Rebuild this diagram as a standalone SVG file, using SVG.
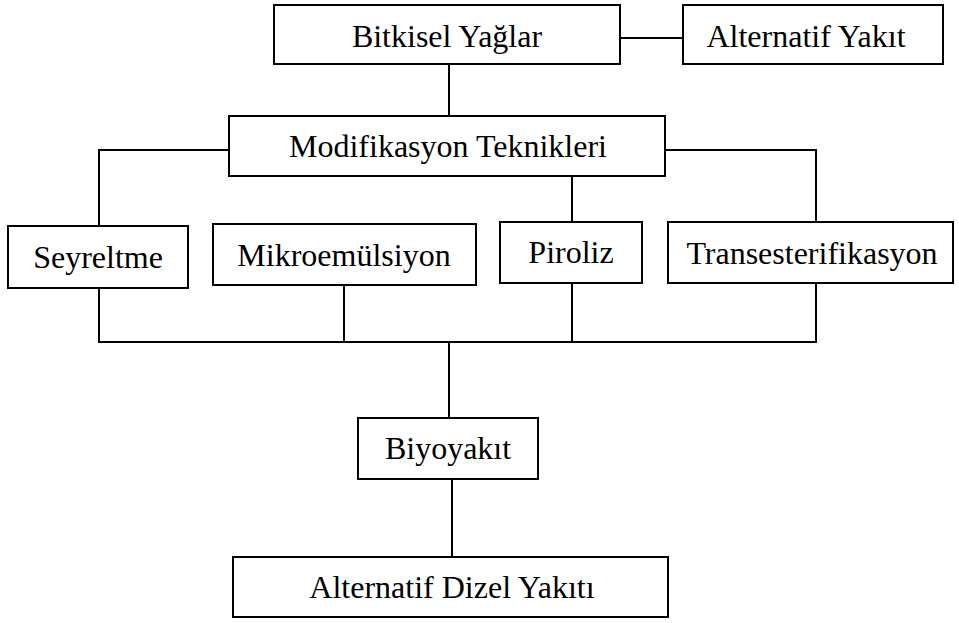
<svg xmlns="http://www.w3.org/2000/svg" width="959" height="623" viewBox="0 0 959 623">
<style>
rect{fill:#fff;stroke:#000;stroke-width:2}
text{font-family:'Liberation Serif', 'Times New Roman', 'DejaVu Serif', serif;font-size:32px;fill:#000;text-anchor:middle}
#connectors path{fill:none;stroke:#000;stroke-width:2}
</style>
<rect x="0" y="0" width="959" height="623" style="stroke:none"/>
<g id="connectors">
<path d="M620 38H683"/>
<path d="M449 64V116"/>
<path d="M229 150H99V226"/>
<path d="M665 150H816V222"/>
<path d="M572 176V222"/>
<path d="M99 288V342H816V283"/>
<path d="M344 285V342"/>
<path d="M572 283V342"/>
<path d="M449 342V418"/>
<path d="M452 479V557"/>
</g>
<g id="bitkisel"><rect x="274" y="5" width="346" height="59"/><text x="447" y="47">Bitkisel Yağlar</text></g>
<g id="alternatif"><rect x="683" y="5" width="260" height="59"/><text x="806" y="47">Alternatif Yakıt</text></g>
<g id="modifikasyon"><rect x="229" y="116" width="436" height="60"/><text x="448" y="157">Modifikasyon Teknikleri</text></g>
<g id="seyreltme"><rect x="8" y="226" width="180" height="62"/><text x="98" y="268">Seyreltme</text></g>
<g id="mikroemulsiyon"><rect x="213" y="224" width="263" height="61"/><text x="344" y="266">Mikroemülsiyon</text></g>
<g id="piroliz"><rect x="500" y="222" width="142" height="61"/><text x="571" y="263">Piroliz</text></g>
<g id="transesterifikasyon"><rect x="668" y="222" width="285" height="61"/><text x="812" y="264">Transesterifikasyon</text></g>
<g id="biyoyakit"><rect x="358" y="418" width="180" height="61"/><text x="448" y="459">Biyoyakıt</text></g>
<g id="dizel"><rect x="233" y="557" width="435" height="60"/><text x="452" y="598">Alternatif Dizel Yakıtı</text></g>
</svg>
